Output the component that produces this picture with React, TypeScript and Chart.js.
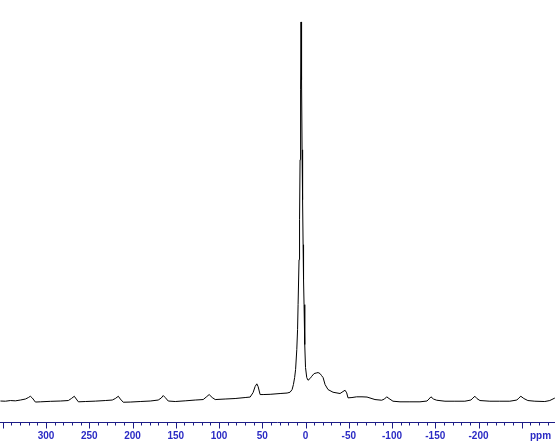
import React, { useEffect, useRef } from "react";
import { Chart, registerables } from "chart.js";

Chart.register(...registerables);

// chemical shift (ppm) of each sampled point, left to right
const ppm: number[] = [
  352.7, 346.9, 341.2, 335.4, 329.6, 323.8, 320.4, 318.1, 315.8, 312.3,
  306.5, 295.0, 283.4, 274.2, 270.7, 267.3, 265.0, 262.6, 254.6, 243.0,
  231.5, 223.4, 219.9, 216.4, 214.1, 210.7, 202.6, 191.1, 179.5, 170.3,
  166.8, 164.5, 162.2, 158.7, 150.6, 139.1, 127.5, 118.3, 114.8, 111.4,
  107.9, 104.4, 92.9, 81.4, 69.8, 64.0, 60.6, 58.3, 56.3, 54.8,
  52.5, 49.0, 40.9, 29.4, 21.3, 17.9, 15.5, 14.0, 12.6, 11.5,
  10.1, 9.2, 8.6, 7.5, 6.9, 6.3, 5.7, 5.2, 4.6, 4.0,
  3.4, 2.8, 2.3, 1.7, 0.9, 0.0, -1.4, -2.9, -5.2, -7.2,
  -9.9, -13.0, -14.5, -16.8, -18.5, -20.3, -22.6, -26.0, -31.8, -39.9,
  -43.3, -45.7, -47.6, -49.1, -53.7, -59.1, -65.3, -71.1, -80.3, -88.0,
  -91.3, -93.8, -96.5, -101.1, -109.2, -120.7, -132.3, -140.4, -142.7, -145.0,
  -147.9, -151.6, -161.2, -172.7, -184.2, -191.2, -193.5, -195.8, -198.1, -201.6,
  -213.1, -224.6, -236.2, -244.3, -246.6, -248.9, -252.4, -257.0, -265.1, -276.6,
  -282.4, -288.2,
];

// signal intensity (main peak = 100)
const intensity: number[] = [
  -0.13, -0.18, 0, -0.08, 0.13, 0.4, 0.79, 1.13, 0.66, -0.4,
  -0.34, -0.21, -0.13, 0, 0.53, 1.13, 0.4, -0.34, -0.26, -0.16,
  0, 0.13, 0.53, 1.13, 0.4, -0.45, -0.4, -0.26, -0.13, 0.13,
  0.66, 1.32, 0.79, -0.13, -0.26, -0.08, 0.13, 0.26, 0.92, 1.58,
  0.79, 0.26, 0.4, 0.53, 0.79, 0.92, 2.11, 3.69, 4.41, 3.69,
  1.58, 1.58, 1.64, 1.85, 1.98, 2.19, 2.9, 4.22, 6.07, 8.18,
  13.46, 18.73, 25.33, 37.2, 47.76, 63.59, 82.06, 100, 84.7, 66.23,
  53.03, 41.16, 31.93, 25.33, 14.78, 8.71, 6.07, 5.36, 5.8, 6.41,
  7.12, 7.31, 7.39, 7.12, 6.6, 6.07, 4.22, 2.9, 2.19, 1.85,
  2.37, 2.72, 2.03, 0.71, 0.79, 0.98, 0.98, 0.92, 0.26, 0.08,
  0.4, 0.98, 0.53, -0.18, -0.34, -0.34, -0.34, -0.13, 0.4, 0.98,
  0.4, 0.08, -0.18, -0.18, -0.18, 0.13, 0.66, 1.13, 0.53, 0,
  -0.18, -0.18, -0.18, 0.13, 0.66, 1.13, 0.53, 0, -0.18, -0.26,
  0, 0.66,
];

// labelled ticks on the ppm axis
const tickValues: number[] = [300, 250, 200, 150, 100, 50, 0, -50, -100, -150, -200, -271.7];
const tickLabels: string[] = ["300", "250", "200", "150", "100", "50", "0", "-50", "-100", "-150", "-200", "ppm"];

const axisMin = -288.4;
const axisMax = 353.2;
const minorStep = 10;
const majorStep = 50;

const AXIS_COLOR = "#1c1c86";
const LABEL_COLOR = "#2a2ac4";

const axisPlugin = {
  id: "ppmAxis",
  afterDraw(chart: any) {
    const ctx = chart.ctx;
    const area = chart.chartArea;
    const xs = chart.scales.x;
    const y0 = Math.round(area.bottom) + 0.5;
    ctx.save();
    ctx.strokeStyle = AXIS_COLOR;
    ctx.lineWidth = 1;
    ctx.beginPath();
    ctx.moveTo(area.left, y0);
    ctx.lineTo(area.right, y0);
    const start = Math.ceil(axisMin / minorStep) * minorStep;
    for (let v = start; v <= axisMax; v += minorStep) {
      const px = Math.round(xs.getPixelForValue(v)) + 0.5;
      const len = v % majorStep === 0 ? 6 : 3;
      ctx.moveTo(px, y0);
      ctx.lineTo(px, y0 + len);
    }
    ctx.stroke();
    ctx.restore();
  },
};

export default function App() {
  const ref = useRef<HTMLCanvasElement | null>(null);
  useEffect(() => {
    if (!ref.current) return;
    const chart = new Chart(ref.current, {
      type: "line",
      data: {
        datasets: [
          {
            data: ppm.map((p, i) => ({ x: p, y: intensity[i] })),
            borderColor: "#000000",
            borderWidth: 1,
            pointRadius: 0,
            tension: 0,
            fill: false,
          },
        ],
      },
      options: {
        animation: false,
        responsive: false,
        devicePixelRatio: 1,
        layout: { padding: 0 },
        plugins: { legend: { display: false }, tooltip: { enabled: false }, title: { display: false } },
        scales: {
          x: {
            type: "linear",
            reverse: true,
            min: axisMin,
            max: axisMax,
            grid: { display: false, drawTicks: false },
            border: { display: false },
            afterBuildTicks: (scale: any) => {
              scale.ticks = tickValues.map((v) => ({ value: v }));
            },
            afterFit: (scale: any) => {
              scale.height = 20;
              scale.paddingLeft = 0;
              scale.paddingRight = 0;
            },
            ticks: {
              autoSkip: false,
              maxRotation: 0,
              padding: 8.5,
              color: LABEL_COLOR,
              font: { family: "Arial, 'Liberation Sans', sans-serif", size: 10, weight: "bold" },
              callback: (value: any) => {
                const i = tickValues.indexOf(Number(value));
                return i >= 0 ? tickLabels[i] : "";
              },
            },
          },
          y: {
            display: false,
            min: -5.67,
            max: 105.8,
          },
        },
      },
      plugins: [axisPlugin],
    } as any);
    return () => chart.destroy();
  }, []);
  return (
    <div style={{ position: "fixed", left: 0, top: 0, width: 555, height: 442, background: "#fff" }}>
      <canvas ref={ref} width={555} height={442} />
    </div>
  );
}
